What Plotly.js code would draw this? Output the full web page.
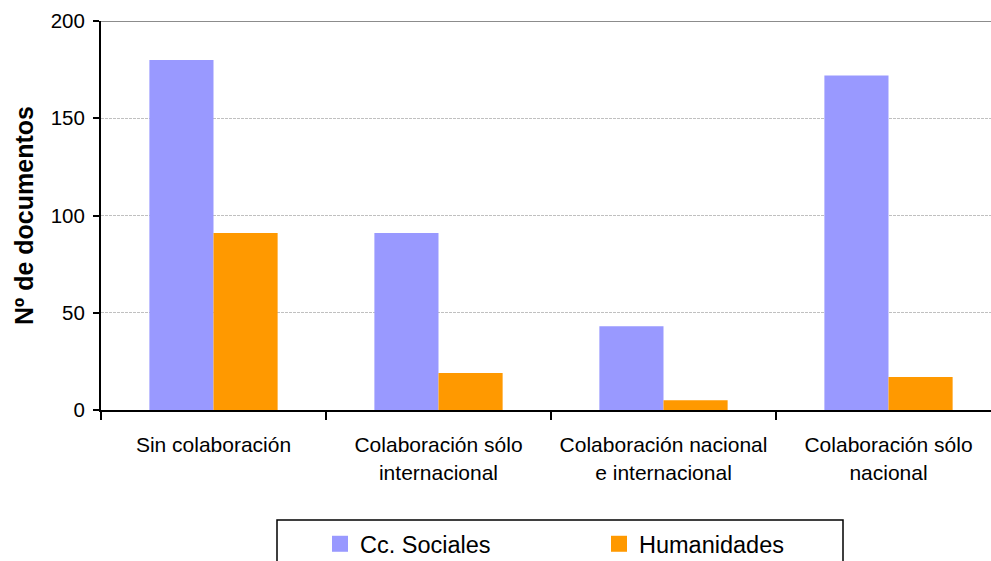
<!DOCTYPE html>
<html>
<head>
<meta charset="utf-8">
<script src="https://cdn.plot.ly/plotly-3.0.1.min.js"></script>
<style>
html,body{margin:0;padding:0;overflow:hidden;background:#fff;}
#chart{width:1010px;height:580px;}
</style>
</head>
<body>
<div id="chart"></div>
<script>
const categories = [
  "Sin colaboración",
  "Colaboración sólo<br>internacional",
  "Colaboración nacional<br>e internacional",
  "Colaboración sólo<br>nacional"
];
const seriesNames = ["Cc. Sociales", "Humanidades"];
const seriesColors = ["#9999FF", "#FF9900"];
const ccSociales = [180, 91, 43, 172];
const humanidades = [91, 19, 5, 17];
const yTicks = [0, 50, 100, 150, 200];

const FONT = '"Liberation Sans", Arial, Helvetica, sans-serif';

const traces = [
  {type: 'bar', name: seriesNames[0], x: categories, y: ccSociales,
   marker: {color: seriesColors[0]}, showlegend: false},
  {type: 'bar', name: seriesNames[1], x: categories, y: humanidades,
   marker: {color: seriesColors[1]}, showlegend: false},
  // legend keys (square swatches) for the two series
  {type: 'scatter', mode: 'markers', name: seriesNames[0], x: [null], y: [null],
   marker: {symbol: 'square', size: 16, color: seriesColors[0], line: {width: 0}}},
  {type: 'scatter', mode: 'markers', name: seriesNames[1], x: [null], y: [null],
   marker: {symbol: 'square', size: 16, color: seriesColors[1], line: {width: 0}}}
];

const layout = {
  width: 1010, height: 580,
  margin: {l: 101, r: 9, t: 21, b: 170, pad: 0},
  paper_bgcolor: '#ffffff', plot_bgcolor: '#ffffff',
  font: {family: FONT, color: '#000000', size: 21},
  barmode: 'group', bargap: 0.43, bargroupgap: 0,
  showlegend: true,
  legend: {
    orientation: 'h', xref: 'container', yref: 'container',
    x: 320/1010, y: 1 - 522/580, xanchor: 'left', yanchor: 'top',
    font: {family: FONT, size: 23.5, color: '#000'},
    bgcolor: 'rgba(0,0,0,0)', borderwidth: 0,
    entrywidth: 234, entrywidthmode: 'pixels', traceorder: 'normal'
  },
  xaxis: {
    type: 'category', range: [-0.5, 3.5], fixedrange: true,
    showline: true, linecolor: '#000', linewidth: 2,
    ticks: 'outside', tickson: 'boundaries', ticklen: 8, tickwidth: 2, tickcolor: '#000',
    showgrid: false, zeroline: false,
    tickfont: {family: FONT, size: 21, color: '#000'},
    ticklabelstandoff: 15
  },
  yaxis: {
    range: [0, 200], fixedrange: true, tickvals: yTicks, ticktext: yTicks.map(String),
    showline: true, linecolor: '#000', linewidth: 2,
    ticks: 'outside', ticklen: 6, tickwidth: 2, tickcolor: '#000',
    showgrid: true, gridcolor: '#c0c0c0', gridwidth: 1, griddash: '3px,1px',
    zeroline: false,
    tickfont: {family: FONT, size: 20.5, color: '#000'},
    ticklabelstandoff: 4,
    title: {text: 'Nº de documentos', font: {family: FONT, size: 25, color: '#000', weight: 'bold'}, standoff: 10}
  },
  shapes: [
    {type: 'line', xref: 'paper', yref: 'y', x0: 0, x1: 1, y0: 200, y1: 200,
     line: {color: '#8c8c8c', width: 2}, layer: 'below'},
    {type: 'rect', xref: 'paper', yref: 'paper',
     x0: (277-101)/900, x1: (843-101)/900, y0: -0.6, y1: (410-520)/389,
     line: {color: '#000', width: 1.5}, fillcolor: 'rgba(0,0,0,0)', layer: 'above'}
  ]
};

Plotly.newPlot('chart', traces, layout, {displayModeBar: false, staticPlot: true});
</script>
</body>
</html>
